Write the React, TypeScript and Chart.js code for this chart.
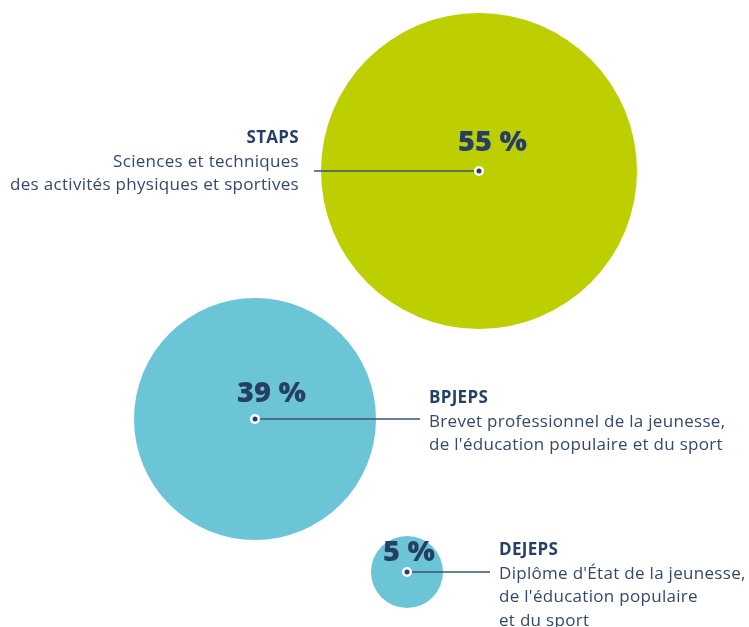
import React, { useEffect, useRef } from "react";
import { Chart, registerables } from "chart.js";

Chart.register(...registerables);

// ---- data ----
const categories = ["STAPS", "BPJEPS", "DEJEPS"];
const percents = [55, 39, 5];
const descriptions = [
  ["Sciences et techniques", "des activités physiques et sportives"],
  ["Brevet professionnel de la jeunesse,", "de l'éducation populaire et du sport"],
  ["Diplôme d'État de la jeunesse,", "de l'éducation populaire", "et du sport"],
];
const bubbleX = [479, 255, 407];
const bubbleY = [171, 419, 572];
const bubbleR = [158, 121, 36];

// ---- layout / style config ----
const bubbleColors = ["#BDCF00", "#6BC5D6", "#6BC5D6"];
const labelSide = ["left", "right", "right"];
const leaderLength = [165, 165, 83];
const headerOffsetY = [-28, -16, -17];
const pctOffset = [
  [-21, -20],
  [-18, -17],
  [-24, -11],
];
const NAVY = "#263F66";
const TEXT = "#34496B";
const LINE = "#3E5274";
const BODY_FONT = "'Open Sans', Lato, sans-serif";

const labelPlugin = {
  id: "bubbleLabels",
  afterDatasetsDraw(chart: any) {
    const ctx = chart.ctx as CanvasRenderingContext2D;
    const meta = chart.getDatasetMeta(0);
    meta.data.forEach((el: any, i: number) => {
      const x = el.x;
      const y = el.y;
      const left = labelSide[i] === "left";
      const endX = left ? x - leaderLength[i] : x + leaderLength[i];
      ctx.save();
      // leader line
      ctx.strokeStyle = LINE;
      ctx.lineWidth = 1.3;
      ctx.beginPath();
      ctx.moveTo(x, y);
      ctx.lineTo(endX, y);
      ctx.stroke();
      // dot
      ctx.fillStyle = "#FFFFFF";
      ctx.beginPath();
      ctx.arc(x, y, 5, 0, Math.PI * 2);
      ctx.fill();
      ctx.fillStyle = NAVY;
      ctx.beginPath();
      ctx.arc(x, y, 2.5, 0, Math.PI * 2);
      ctx.fill();
      // percent
      ctx.fillStyle = NAVY;
      ctx.font = "800 29px 'Open Sans', Lato, sans-serif";
      ctx.textAlign = "left";
      ctx.textBaseline = "alphabetic";
      ctx.fillText(percents[i] + " %", x + pctOffset[i][0], y + pctOffset[i][1]);
      // texts
      const tx = left ? endX - 15 : endX + 9;
      ctx.textAlign = left ? "right" : "left";
      const hy = y + headerOffsetY[i];
      (ctx as any).letterSpacing = "0.3px";
      ctx.font = "bold 17px " + BODY_FONT;
      ctx.fillStyle = NAVY;
      ctx.fillText(categories[i], tx, hy);
      ctx.font = "400 17px " + BODY_FONT;
      ctx.fillStyle = TEXT;
      descriptions[i].forEach((line, j) => {
        ctx.fillText(line, tx, hy + 23.7 * (j + 1));
      });
      ctx.restore();
    });
  },
};

export default function App() {
  const canvasRef = useRef<HTMLCanvasElement | null>(null);

  useEffect(() => {
    if (!canvasRef.current) return;
    const chart = new Chart(canvasRef.current, {
      type: "bubble",
      data: {
        datasets: [
          {
            label: "Diplômes",
            data: categories.map((_, i) => ({ x: bubbleX[i], y: bubbleY[i], r: bubbleR[i] })),
            backgroundColor: bubbleColors,
            borderWidth: 0,
            hoverRadius: 0,
            clip: false as any,
          },
        ],
      },
      options: {
        animation: false,
        responsive: false,
        maintainAspectRatio: false,
        layout: { padding: 0, autoPadding: false },
        plugins: { legend: { display: false }, tooltip: { enabled: false } },
        events: [],
        scales: {
          x: { type: "linear", min: 0, max: 749, display: false },
          y: { type: "linear", min: 0, max: 627, reverse: true, display: false },
        },
      },
      plugins: [labelPlugin],
    });
    return () => chart.destroy();
  }, []);

  return (
    <div style={{ position: "absolute", left: 0, top: 0, width: 749, height: 627, background: "#fff" }}>
      <canvas ref={canvasRef} width={749} height={627} style={{ display: "block" }} />
    </div>
  );
}
